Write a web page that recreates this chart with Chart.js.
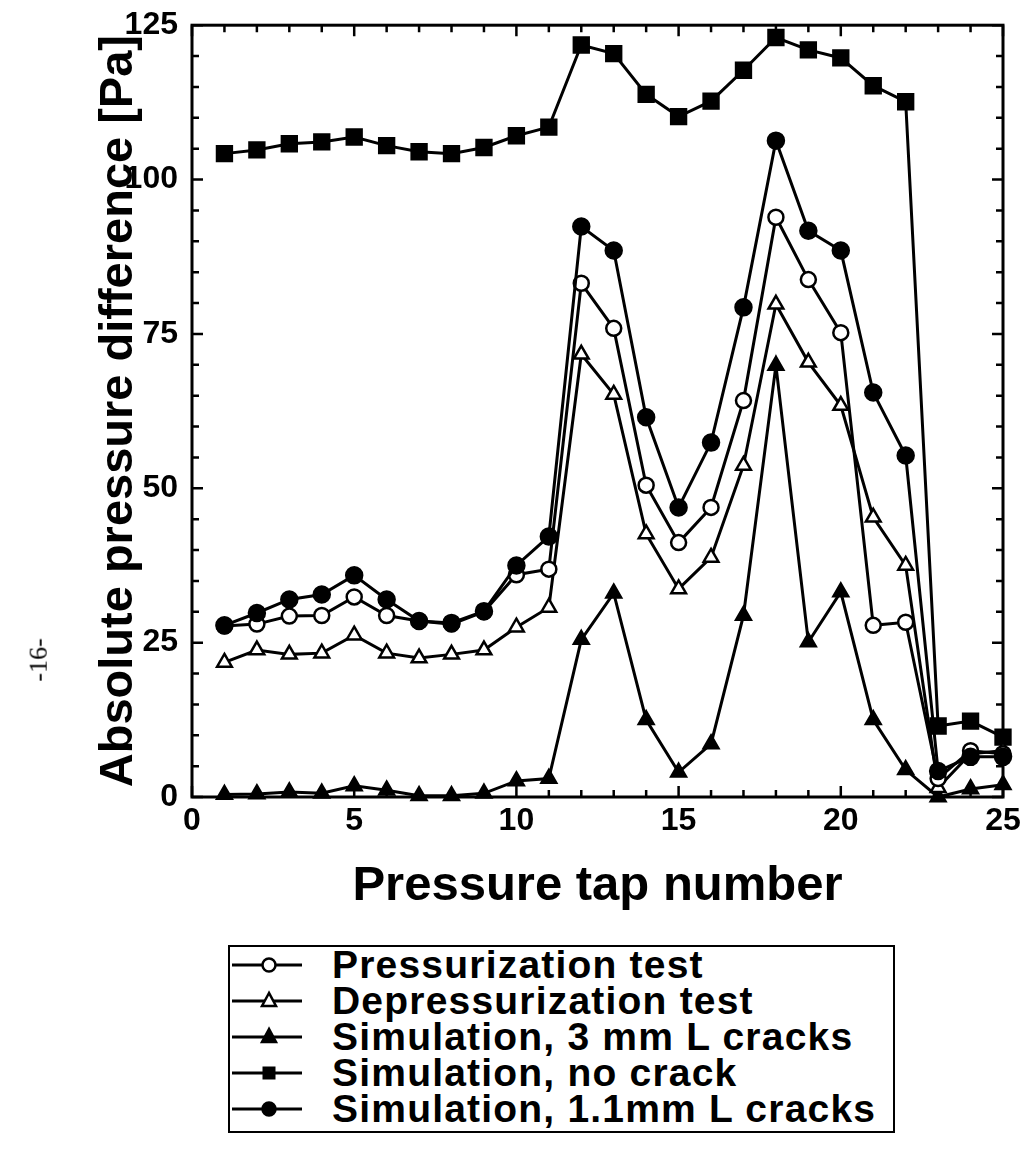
<!DOCTYPE html>
<html>
<head>
<meta charset="utf-8">
<script src="https://cdn.jsdelivr.net/npm/chart.js@4.4.1/dist/chart.umd.min.js"></script>
<style>
html, body { margin: 0; padding: 0; background: #fff; }
body { width: 1023px; height: 1151px; position: relative; overflow: hidden; font-family: "Liberation Sans", Arial, sans-serif; }
#wrap { position: absolute; left: 0; top: 0; width: 1023px; height: 930px; }
#legend { position: absolute; left: 228px; top: 945px; width: 667px; height: 188px; border: 2.5px solid #000; box-sizing: border-box; }
.row { position: absolute; left: 0; height: 36px; display: flex; align-items: center; }
.row span { font-weight: bold; font-size: 39px; letter-spacing: 1.2px; margin-left: 30px; white-space: nowrap; color: #000; }
#page { position: absolute; left: 17px; top: 645px; transform: rotate(-90deg); font-size: 26px; font-family: "Liberation Serif", serif; }
</style>
</head>
<body>
<div id="wrap"><canvas id="pressureChart" width="1023" height="930"></canvas></div>
<div id="legend"></div>
<div id="page">-16-</div>
<script>
// =========================
// DATA
// =========================
const taps = [1, 2, 3, 4, 5, 6, 7, 8, 9, 10, 11, 12, 13, 14, 15, 16, 17, 18, 19, 20, 21, 22, 23, 24, 25];

const pressurization = [27.7, 28, 29.3, 29.4, 32.4, 29.4, 28.5, 28, 30, 36, 36.9, 83.2, 75.9, 50.5, 41.2, 46.9, 64.2, 93.9, 83.8, 75.2, 27.8, 28.3, 3, 7.5, 7];
const depressurization = [21.8, 23.8, 23.1, 23.3, 26.2, 23.3, 22.5, 23.1, 23.8, 27.5, 30.7, 71.7, 65.2, 42.6, 33.7, 38.8, 53.7, 79.8, 70.4, 63.4, 45.3, 37.5, 1.5, 7, 7.5];
const sim3mm = [0.4, 0.5, 0.8, 0.6, 1.8, 1.1, 0.2, 0.2, 0.6, 2.6, 3, 25.5, 33, 12.5, 4, 8.6, 29.4, 69.9, 25.1, 33.2, 12.5, 4.4, 0, 1.3, 2];
const noCrack = [104.2, 104.8, 105.8, 106.1, 106.9, 105.5, 104.5, 104.2, 105.2, 107.1, 108.5, 121.8, 120.4, 113.8, 110.2, 112.7, 117.7, 123, 121, 119.7, 115.2, 112.6, 11.5, 12.3, 9.7];
const sim1mm = [27.8, 29.8, 32, 32.8, 35.9, 32, 28.5, 28.2, 30.1, 37.5, 42.2, 92.4, 88.5, 61.5, 46.9, 57.4, 79.3, 106.3, 91.7, 88.5, 65.5, 55.3, 4.2, 6.5, 6.5];

const xMin = 0, xMax = 25, xMajor = 5, xMinor = 1;
const yMin = 0, yMax = 125, yMajor = 25, yMinor = 5;

const FONT = "'Liberation Sans', Arial, sans-serif";

function pts(values) {
return values.map((v, i) => ({ x: taps[i], y: v }));
}

// =========================
// SERIES
// =========================
const series = [
{ label: "Pressurization test", data: pressurization, style: "circle", fill: "#fff", r: 7.5, order: 1 },
{ label: "Depressurization test", data: depressurization, style: "triangle", fill: "#fff", r: 8.5, order: 2 },
{ label: "Simulation, 3 mm L cracks", data: sim3mm, style: "triangle", fill: "#000", r: 8.5, order: 3 },
{ label: "Simulation, no crack", data: noCrack, style: "rect", fill: "#000", r: 10.5, order: 4 },
{ label: "Simulation, 1.1mm L cracks", data: sim1mm, style: "circle", fill: "#000", r: 8, order: 0 }
];

// =========================
// FRAME + INWARD TICKS
// =========================
const frameTicks = {
id: "frameTicks",
beforeDatasetsDraw(chart) {
const { ctx, chartArea: a, scales: { x, y } } = chart;
ctx.save();
ctx.strokeStyle = "#000";
ctx.lineWidth = 2.5;
ctx.beginPath();
for (let v = xMin; v <= xMax; v += xMinor) {
const px = x.getPixelForValue(v);
const len = v % xMajor === 0 ? 11 : 7;
ctx.moveTo(px, a.bottom); ctx.lineTo(px, a.bottom - len);
ctx.moveTo(px, a.top); ctx.lineTo(px, a.top + len);
}
for (let v = yMin; v <= yMax; v += yMinor) {
const py = y.getPixelForValue(v);
const len = v % yMajor === 0 ? 11 : 7;
ctx.moveTo(a.left, py); ctx.lineTo(a.left + len, py);
ctx.moveTo(a.right, py); ctx.lineTo(a.right - len, py);
}
ctx.stroke();
ctx.lineWidth = 3;
ctx.strokeRect(a.left, a.top, a.right - a.left, a.bottom - a.top);
ctx.restore();
}
};

// =========================
// CHART
// =========================
const chart = new Chart(document.getElementById("pressureChart"), {
type: "line",
data: {
datasets: series.map(s => ({
label: s.label,
data: pts(s.data),
order: s.order,
borderColor: "#000",
borderWidth: 3,
tension: 0,
pointStyle: s.style,
pointRadius: s.r,
pointBackgroundColor: s.fill,
pointBorderColor: "#000",
pointBorderWidth: 2.5,
clip: false
}))
},
options: {
responsive: false,
animation: false,
events: [],
layout: { padding: { left: 91, top: 21, right: 20, bottom: 14 } },
plugins: { legend: { display: false }, tooltip: { enabled: false } },
scales: {
x: {
type: "linear",
min: xMin, max: xMax,
ticks: { stepSize: xMajor, color: "#000", font: { family: FONT, size: 32, weight: "bold" }, padding: -3, maxRotation: 0 },
grid: { display: false },
border: { display: false },
title: { display: true, text: "Pressure tap number", color: "#000", font: { family: FONT, size: 49, weight: "bold" }, padding: 0 },
afterFit: s => { s.height = 119; }
},
y: {
min: yMin, max: yMax,
ticks: { stepSize: yMajor, color: "#000", font: { family: FONT, size: 32, weight: "bold" }, padding: 6 },
grid: { display: false },
border: { display: false },
title: { display: true, text: "Absolute pressure difference [Pa]", color: "#000", font: { family: FONT, size: 47, weight: "bold" }, padding: 0 },
afterFit: s => { s.width = 101; }
}
}
},
plugins: [frameTicks]
});

// =========================
// LEGEND (html)
// =========================
function markerSvg(s) {
let shape = "";
const cx = 39, cy = 18;
if (s.style === "circle") {
shape = `<circle cx="${cx}" cy="${cy}" r="6.5" fill="${s.fill}" stroke="#000" stroke-width="2.5"/>`;
} else if (s.style === "triangle") {
shape = `<polygon points="${cx},${cy - 8} ${cx - 7},${cy + 5} ${cx + 7},${cy + 5}" fill="${s.fill}" stroke="#000" stroke-width="2.5"/>`;
} else {
shape = `<rect x="${cx - 6}" y="${cy - 6}" width="12" height="12" fill="${s.fill}" stroke="#000" stroke-width="1"/>`;
}
return `<svg width="72" height="36"><line x1="2" y1="${cy}" x2="72" y2="${cy}" stroke="#000" stroke-width="3"/>${shape}</svg>`;
}

const legendBox = document.getElementById("legend");
series.forEach((s, i) => {
const row = document.createElement("div");
row.className = "row";
row.style.top = (i * 36 + 0) + "px";
row.innerHTML = markerSvg(s) + `<span>${s.label}</span>`;
legendBox.appendChild(row);
});
</script>
</body>
</html>
